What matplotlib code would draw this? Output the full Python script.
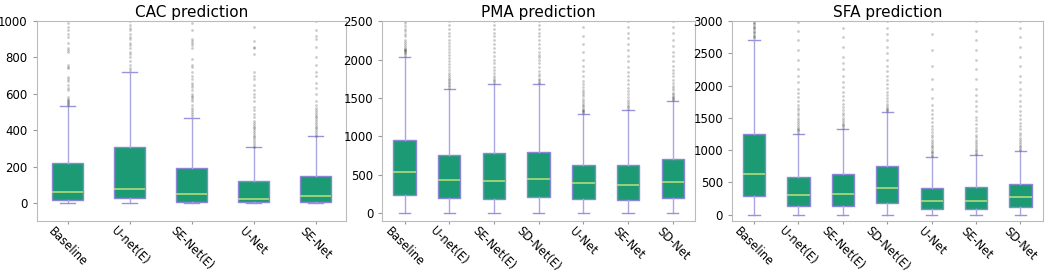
import matplotlib
matplotlib.use('Agg')
import matplotlib.pyplot as plt

# 数据: 箱线图统计量
cac_labels = ['Baseline', 'U-net(E)', 'SE-Net(E)', 'U-Net', 'SE-Net']
cac_q1 = [18, 29, 5, 4, 7]
cac_med = [60, 75, 48, 22, 38]
cac_q3 = [222, 308, 190, 123, 148]
cac_lo = [0, 0, 0, 0, 0]
cac_hi = [531, 720, 469, 308, 366]
cac_fliers = [
    [540, 545, 550, 555, 560, 565, 570, 580, 620, 630, 650, 670, 680, 690, 740, 750, 760, 830, 840, 850, 880, 910, 930, 950, 970, 990],
    [730, 740, 760, 780, 800, 820, 830, 850, 870, 880, 900, 910, 930, 950, 960, 980, 1000],
    [480, 490, 500, 510, 520, 540, 560, 570, 580, 590, 600, 620, 640, 650, 660, 680, 700, 720, 750, 760, 790, 850, 870, 880, 890, 900, 950, 990],
    [310, 320, 330, 340, 350, 360, 370, 380, 390, 400, 410, 420, 430, 440, 450, 470, 490, 510, 530, 560, 580, 600, 620, 650, 680, 700, 720, 820, 850, 860, 890, 970],
    [370, 380, 390, 400, 410, 420, 430, 440, 450, 460, 470, 480, 490, 500, 510, 520, 540, 560, 600, 630, 660, 700, 720, 760, 800, 860, 900, 920, 950, 1000],
]

pma_labels = ['Baseline', 'U-net(E)', 'SE-Net(E)', 'SD-Net(E)', 'U-Net', 'SE-Net', 'SD-Net']
pma_q1 = [241, 203, 185, 216, 190, 168, 194]
pma_med = [534, 435, 418, 453, 392, 366, 405]
pma_q3 = [957, 759, 780, 802, 634, 634, 703]
pma_lo = [0, 0, 0, 0, 0, 0, 0]
pma_hi = [2034, 1612, 1681, 1677, 1297, 1340, 1461]
pma_fliers = [
    [2050, 2070, 2090, 2100, 2110, 2120, 2130, 2140, 2150, 2170, 2200, 2230, 2260, 2300, 2330, 2370, 2400, 2440, 2480, 2500],
    [1630, 1650, 1670, 1690, 1710, 1730, 1750, 1770, 1800, 1830, 1860, 1900, 1940, 1980, 2020, 2060, 2100, 2140, 2180, 2220, 2260, 2300, 2350, 2400, 2450, 2500],
    [1700, 1720, 1740, 1760, 1790, 1820, 1860, 1900, 1950, 2000, 2050, 2100, 2150, 2200, 2250, 2300, 2350, 2400, 2450, 2500],
    [1690, 1710, 1730, 1750, 1780, 1810, 1850, 1900, 1950, 2000, 2030, 2060, 2100, 2150, 2200, 2250, 2300, 2350, 2400, 2450, 2500],
    [1310, 1320, 1330, 1340, 1350, 1370, 1390, 1410, 1430, 1460, 1490, 1520, 1550, 1580, 1610, 1640, 1680, 1720, 1780, 1850, 1920, 2000, 2100, 2200, 2300, 2420],
    [1360, 1380, 1400, 1420, 1450, 1480, 1510, 1550, 1590, 1630, 1680, 1730, 1780, 1840, 1900, 1980, 2050, 2120, 2200, 2280, 2350, 2420, 2500],
    [1480, 1490, 1500, 1510, 1530, 1550, 1570, 1600, 1630, 1660, 1700, 1740, 1780, 1820, 1870, 1920, 1980, 2040, 2100, 2180, 2260, 2340, 2420, 2500],
]

sfa_labels = ['Baseline', 'U-net(E)', 'SE-Net(E)', 'SD-Net(E)', 'U-Net', 'SE-Net', 'SD-Net']
sfa_q1 = [288, 134, 134, 185, 93, 93, 118]
sfa_med = [628, 298, 319, 407, 216, 216, 268]
sfa_q3 = [1256, 576, 623, 746, 407, 422, 468]
sfa_lo = [0, 0, 0, 0, 0, 0, 0]
sfa_hi = [2712, 1250, 1333, 1585, 900, 926, 983]
sfa_fliers = [
    [2730, 2750, 2770, 2790, 2810, 2830, 2850, 2870, 2890, 2910, 2930, 2950, 2970, 2990],
    [1270, 1290, 1310, 1330, 1350, 1380, 1410, 1440, 1470, 1500, 1540, 1580, 1620, 1660, 1700, 1760, 1820, 1880, 1950, 2050, 2150, 2250, 2400, 2550, 2700, 2850, 2980],
    [1350, 1370, 1390, 1410, 1440, 1470, 1500, 1540, 1580, 1620, 1670, 1720, 1780, 1840, 1900, 1980, 2060, 2150, 2250, 2350, 2450, 2600, 2750, 2900],
    [1600, 1620, 1640, 1660, 1690, 1720, 1760, 1800, 1850, 1900, 1960, 2020, 2080, 2150, 2230, 2310, 2400, 2500, 2600, 2700, 2800, 2900, 3000],
    [910, 930, 950, 970, 990, 1010, 1040, 1070, 1100, 1130, 1160, 1200, 1240, 1280, 1330, 1380, 1440, 1500, 1560, 1620, 1700, 1800, 1950, 2100, 2300, 2550, 2800, 3000],
    [940, 960, 980, 1000, 1030, 1060, 1090, 1120, 1160, 1200, 1240, 1290, 1340, 1400, 1460, 1520, 1600, 1680, 1760, 1850, 1950, 2100, 2250, 2400, 2550, 2700, 2850, 3000],
    [1000, 1020, 1040, 1060, 1090, 1120, 1150, 1190, 1230, 1270, 1320, 1370, 1420, 1480, 1540, 1600, 1680, 1760, 1850, 1950, 2050, 2150, 2300, 2450, 2600, 2750, 2900, 3000],
]

panels = [
    ('CAC prediction', cac_labels, cac_q1, cac_med, cac_q3, cac_lo, cac_hi, cac_fliers, (-100, 1000), [0, 200, 400, 600, 800, 1000]),
    ('PMA prediction', pma_labels, pma_q1, pma_med, pma_q3, pma_lo, pma_hi, pma_fliers, (-100, 2500), [0, 500, 1000, 1500, 2000, 2500]),
    ('SFA prediction', sfa_labels, sfa_q1, sfa_med, sfa_q3, sfa_lo, sfa_hi, sfa_fliers, (-100, 3000), [0, 500, 1000, 1500, 2000, 2500, 3000]),
]

# 每个子图的位置 (figure 坐标)
rects = [
    [0.035, 0.202, 0.295, 0.722],
    [0.364, 0.202, 0.298, 0.722],
    [0.697, 0.202, 0.296, 0.722],
]

fig = plt.figure(figsize=(10.5, 2.77), dpi=100)

for rect, (title, labels, q1, med, q3, lo, hi, fl, ylim, yt) in zip(rects, panels):
    ax = fig.add_axes(rect)
    stats = []
    for i in range(len(labels)):
        stats.append({'label': labels[i], 'q1': q1[i], 'med': med[i], 'q3': q3[i],
                      'whislo': lo[i], 'whishi': hi[i], 'fliers': fl[i]})
    ax.bxp(stats, widths=0.5, patch_artist=True, showfliers=True,
           boxprops=dict(facecolor='#1b9a74', edgecolor='#8a86d6', linewidth=1.0),
           medianprops=dict(color='#b2dc7c', linewidth=1.2),
           whiskerprops=dict(color='#aaa6e2', linewidth=1.0),
           capprops=dict(color='#9894dc', linewidth=1.0),
           flierprops=dict(marker='o', markersize=2, markerfacecolor='black',
                           markeredgecolor='none', alpha=0.2))
    ax.set_ylim(ylim)
    ax.set_yticks(yt)
    ax.set_title(title, fontsize=11, pad=3)
    ax.tick_params(axis='y', labelsize=8.5, length=3, color='#999999')
    ax.tick_params(axis='x', labelsize=8.3, length=2, pad=0.5, color='#999999')
    plt.setp(ax.get_xticklabels(), rotation=-45)
    for s in ax.spines.values():
        s.set_color('#bbbbbb')

plt.savefig('out.png', dpi=100)
